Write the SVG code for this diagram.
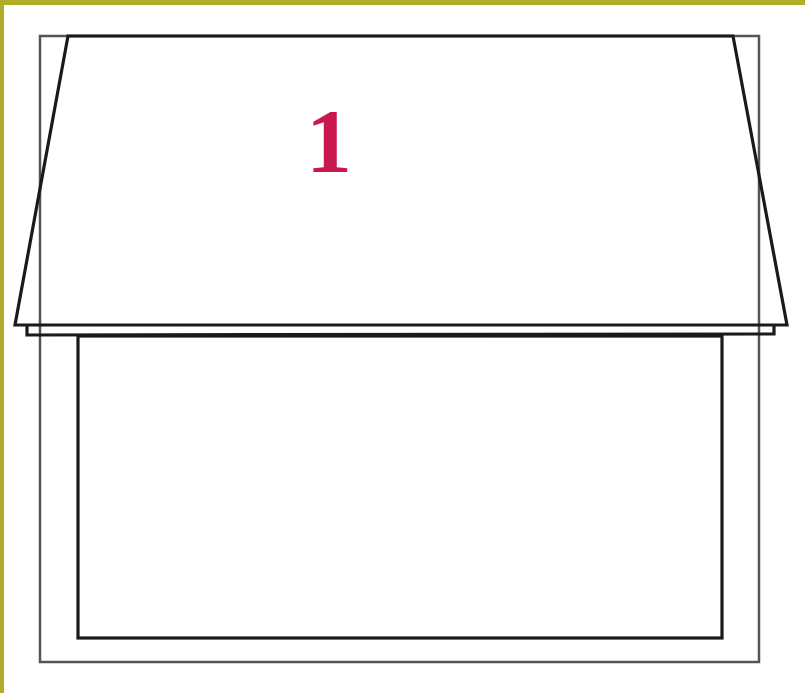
<svg xmlns="http://www.w3.org/2000/svg" width="805" height="693" viewBox="0 0 805 693">
<style>
.frame{fill:none;stroke:#555;stroke-width:2.5}
.thick{fill:none;stroke:#1a1a1a;stroke-width:3.2;stroke-linejoin:miter}
.lbl{font-family:"Liberation Serif",serif;font-weight:bold;font-size:92px;fill:#c8184e}
</style>
<rect width="805" height="693" fill="#fff"/>
<rect x="0" y="0" width="805" height="5" fill="#b0ae28"/>
<rect x="0" y="0" width="4" height="693" fill="#b0ae28"/>
<g id="outer"><rect class="frame" x="40" y="36" width="719" height="626"/></g>
<g id="inner"><rect class="thick" x="78" y="336" width="644" height="302"/></g>
<g id="strip"><polyline class="thick" points="27,325 27,335 774,334 774,325"/></g>
<g id="roof"><polygon class="thick" points="68,36 733,36 787,325 15,325"/>
<text class="lbl" x="329" y="172" text-anchor="middle">1</text></g>
</svg>
